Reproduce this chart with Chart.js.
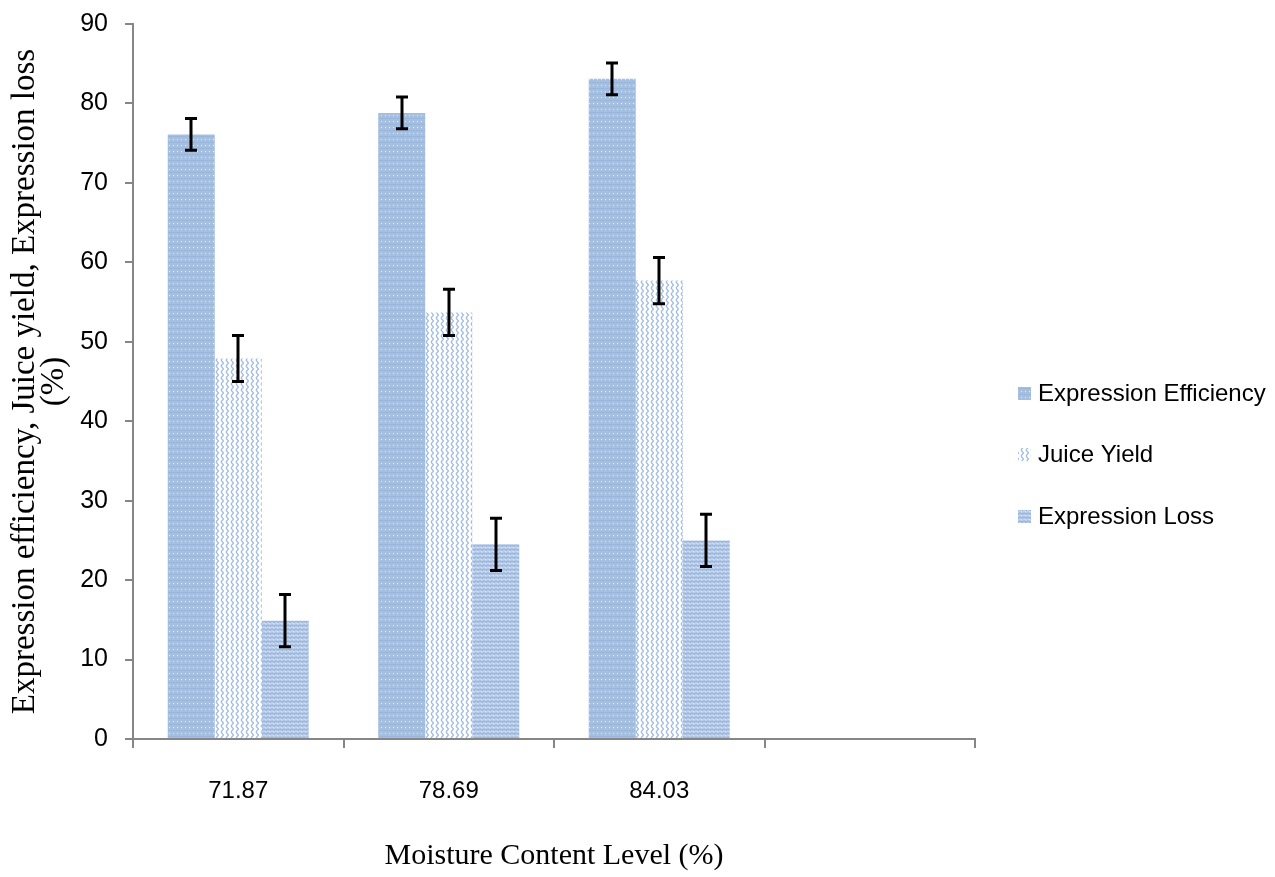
<!DOCTYPE html>
<html>
<head>
<meta charset="utf-8">
<script src="https://cdn.jsdelivr.net/npm/chart.js@4"></script>
<style>
  html, body { margin: 0; padding: 0; background: #fff; }
  #wrap { width: 1275px; height: 877px; position: relative; }
</style>
</head>
<body>
<div id="wrap"><canvas id="moistureChart"></canvas></div>
<script>
// data
const categories = ['71.87', '78.69', '84.03', ''];
const seriesNames = ['Expression Efficiency', 'Juice Yield', 'Expression Loss'];
const efficiency = [76.1, 78.8, 83.1, null];
const juiceYield = [47.9, 53.7, 57.7, null];
const expressionLoss = [14.9, 24.5, 25.0, null];
const efficiencyErr = [2.0, 2.0, 2.0, null];
const juiceYieldErr = [2.9, 2.9, 2.9, null];
const expressionLossErr = [3.3, 3.3, 3.3, null];
const yTicks = [0, 10, 20, 30, 40, 50, 60, 70, 80, 90];

const AXIS_GREY = '#868686';
const SANS = "'Liberation Sans', Arial, sans-serif";
const SERIF = "'Liberation Serif', 'DejaVu Serif', serif";

// hatch fills like the old Excel pattern fills
function makePattern(kind) {
    const c = document.createElement('canvas');
    const g = c.getContext('2d');
    if (kind === 'dots') {
        c.width = 4; c.height = 6;
        g.fillStyle = '#a5bfe1';
        g.fillRect(0, 0, 4, 6);
        g.fillStyle = '#9bb6dc';
        g.fillRect(0, 4, 4, 1);
        g.fillStyle = 'rgba(255,255,255,0.75)';
        g.fillRect(1, 1, 1, 1);
    } else if (kind === 'wave') {
        c.width = 5; c.height = 6;
        g.fillStyle = '#ffffff';
        g.fillRect(0, 0, 5, 6);
        g.strokeStyle = '#a0bae2';
        g.lineWidth = 1.2;
        g.beginPath();
        g.moveTo(1, 0); g.lineTo(3.5, 3); g.lineTo(1, 6);
        g.stroke();
    } else {
        c.width = 4; c.height = 4;
        g.fillStyle = '#bccfeb';
        g.fillRect(0, 0, 4, 4);
        g.strokeStyle = '#7f9fd2';
        g.lineWidth = 1;
        g.beginPath();
        g.moveTo(0, 0.5); g.lineTo(2, 2.5); g.lineTo(4, 0.5);
        g.stroke();
        g.fillStyle = '#e3ebf7';
        g.fillRect(1, 3, 1, 1);
    }
    return g.createPattern(c, 'repeat');
}

const fills = [makePattern('dots'), makePattern('wave'), makePattern('zig')];
const errors = [efficiencyErr, juiceYieldErr, expressionLossErr];

// error bars drawn through the y scale
const errorBarPlugin = {
    id: 'errorBars',
    afterDatasetsDraw(chart) {
        const { ctx, scales } = chart;
        ctx.save();
        ctx.strokeStyle = '#000';
        ctx.lineWidth = 3;
        chart.data.datasets.forEach((ds, i) => {
            const meta = chart.getDatasetMeta(i);
            meta.data.forEach((bar, j) => {
                const v = ds.data[j];
                const e = errors[i][j];
                if (v == null || e == null) return;
                const x = Math.round(bar.x);
                const yHi = scales.y.getPixelForValue(v + e);
                const yLo = scales.y.getPixelForValue(v - e);
                ctx.beginPath();
                ctx.moveTo(x, yHi); ctx.lineTo(x, yLo);
                ctx.moveTo(x - 6, yHi); ctx.lineTo(x + 6, yHi);
                ctx.moveTo(x - 6, yLo); ctx.lineTo(x + 6, yLo);
                ctx.stroke();
            });
        });
        ctx.restore();
    }
};

// legend on the right, spaced like the original
const sideLegendPlugin = {
    id: 'sideLegend',
    afterDraw(chart) {
        const { ctx } = chart;
        const x0 = 1018;
        const rows = [393, 454, 516];
        ctx.save();
        ctx.font = '24px ' + SANS;
        ctx.textBaseline = 'middle';
        chart.data.datasets.forEach((ds, i) => {
            const y = rows[i];
            ctx.fillStyle = ds.backgroundColor;
            ctx.fillRect(x0, y - 6, 13, 13);
            ctx.fillStyle = '#000';
            ctx.fillText(ds.label, x0 + 20, y + 1);
        });
        ctx.restore();
    }
};

const values = [efficiency, juiceYield, expressionLoss];

new Chart(document.getElementById('moistureChart'), {
    type: 'bar',
    data: {
        labels: categories,
        datasets: seriesNames.map((name, i) => ({
            label: name,
            data: values[i],
            backgroundColor: fills[i],
            borderWidth: 0,
            categoryPercentage: 0.67,
            barPercentage: 1.0
        }))
    },
    options: {
        responsive: true,
        maintainAspectRatio: false,
        animation: false,
        layout: {
            padding: { top: 24, right: 300, bottom: 0, left: 0 }
        },
        plugins: {
            legend: { display: false },
            tooltip: { enabled: false }
        },
        scales: {
            x: {
                offset: true,
                grid: {
                    offset: true,
                    drawOnChartArea: false,
                    color: AXIS_GREY,
                    lineWidth: 2,
                    tickLength: 9
                },
                border: { color: AXIS_GREY, width: 2 },
                ticks: {
                    color: '#000',
                    padding: 29,
                    maxRotation: 0,
                    font: { family: SANS, size: 24 }
                },
                title: {
                    display: true,
                    text: 'Moisture Content Level (%)',
                    color: '#000',
                    padding: { top: 0, bottom: 3 },
                    font: { family: SERIF, size: 30 }
                },
                afterFit(scale) { scale.height = 138; }
            },
            y: {
                min: 0,
                max: 90,
                afterBuildTicks(scale) {
                    scale.ticks = yTicks.map(v => ({ value: v }));
                },
                grid: {
                    drawOnChartArea: false,
                    color: AXIS_GREY,
                    lineWidth: 2,
                    tickLength: 8
                },
                border: { color: AXIS_GREY, width: 2 },
                ticks: {
                    color: '#000',
                    padding: 17,
                    font: { family: SANS, size: 25 }
                },
                title: {
                    display: true,
                    text: ['Expression efficiency, Juice yield, Expression loss', '(%)'],
                    color: '#000',
                    padding: { top: 10, bottom: 0 },
                    font: { family: SERIF, size: 33, lineHeight: 0.9 }
                },
                afterFit(scale) {
                    scale.width = 133;
                    scale.paddingTop = 0;
                    scale.paddingBottom = 0;
                }
            }
        }
    },
    plugins: [errorBarPlugin, sideLegendPlugin]
});
</script>
</body>
</html>
